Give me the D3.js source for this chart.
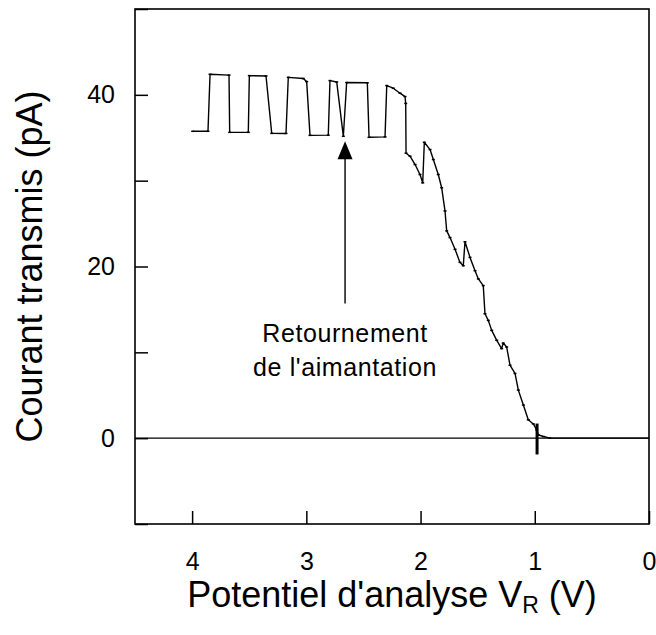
<!DOCTYPE html>
<html>
<head>
<meta charset="utf-8">
<script src="https://cdn.jsdelivr.net/npm/d3@7"></script>
<style>
  html, body { margin: 0; padding: 0; background: #fff; }
  svg { display: block; font-family: "Liberation Sans", Arial, sans-serif; }
</style>
</head>
<body>
<svg id="chart" width="656" height="635"></svg>
<script>
// ---- data (V_R in volts, current in pA) ----
const potential = [3.995, 3.861, 3.843, 3.677, 3.671, 3.508, 3.499, 3.353, 3.303, 3.178,
  3.158, 3.027, 2.997, 2.968, 2.808, 2.793, 2.734, 2.676, 2.647, 2.466,
  2.451, 2.311, 2.296, 2.239, 2.180, 2.136, 2.130, 2.127, 2.092, 2.048,
  2.005, 1.981, 1.967, 1.917, 1.888, 1.845, 1.815, 1.786, 1.771, 1.742,
  1.698, 1.655, 1.626, 1.611, 1.567, 1.523, 1.494, 1.451, 1.436, 1.407,
  1.377, 1.333, 1.290, 1.276, 1.246, 1.217, 1.173, 1.144, 1.100, 1.057,
  1.013, 0.983, 0.969, 0.925, 0.867, 0.0];
const current = [35.75, 35.75, 42.39, 42.30, 35.63, 35.63, 42.24, 42.20, 35.51, 35.50,
  42.04, 41.90, 41.54, 35.28, 35.30, 41.66, 41.50, 35.17, 41.43, 41.40,
  35.05, 35.10, 41.08, 40.77, 40.19, 39.80, 39.00, 33.20, 32.85, 31.88,
  30.72, 29.75, 34.47, 33.62, 32.46, 30.72, 29.17, 26.47, 24.15, 23.37,
  22.00, 20.48, 20.09, 22.88, 21.06, 19.51, 18.55, 17.77, 14.49, 13.72,
  12.56, 11.40, 10.43, 11.08, 10.62, 8.50, 7.54, 5.60, 3.86, 2.14,
  1.66, 0.96, 0.38, 0.19, 0.0, 0.0];
const xTicks = [4, 3, 2, 1, 0];
const yTicks = [-10, 0, 10, 20, 30, 40, 50];
const yLabelled = [0, 20, 40];
const crossingMark = { v: 0.98, lo: -1.9, hi: 1.7 };
const annotation = { v: 2.661, tip: 34.6, base: 15.7, lines: ["Retournement", "de l'aimantation"], l1: 11.2, l2: 7.3 };

// ---- layout ----
const svg = d3.select("#chart");
const x = d3.scaleLinear().domain([4.5, 0]).range([135, 649]);
const y = d3.scaleLinear().domain([-10, 50]).range([524, 9]);

// zero line
svg.append("line")
  .attr("x1", x.range()[0]).attr("x2", x.range()[1])
  .attr("y1", y(0)).attr("y2", y(0))
  .attr("stroke", "#000").attr("stroke-width", 1.2);

// y axis ticks (inside)
const yAxis = d3.axisLeft(y).tickValues(yTicks)
  .tickSizeInner(-13).tickSizeOuter(0).tickPadding(20)
  .tickFormat(d => yLabelled.includes(d) ? d : "");
const gy = svg.append("g").attr("transform", `translate(${x.range()[0]},0)`).call(yAxis);
gy.select(".domain").remove();
gy.selectAll(".tick line").attr("stroke", "#000").attr("stroke-width", 1.5);
gy.selectAll(".tick text").attr("font-size", 25).attr("fill", "#000")
  .attr("font-family", "Liberation Sans, Arial, sans-serif");

// x axis ticks (inside)
const xAxis = d3.axisBottom(x).tickValues(xTicks)
  .tickSizeInner(-13).tickSizeOuter(0).tickPadding(28)
  .tickFormat(d3.format("d"));
const gx = svg.append("g").attr("transform", `translate(0,${y.range()[0]})`).call(xAxis);
gx.select(".domain").remove();
gx.selectAll(".tick line").attr("stroke", "#000").attr("stroke-width", 1.5);
gx.selectAll(".tick text").attr("font-size", 25).attr("fill", "#000")
  .attr("font-family", "Liberation Sans, Arial, sans-serif");

// frame
svg.append("rect")
  .attr("x", x.range()[0]).attr("y", y.range()[1])
  .attr("width", x.range()[1] - x.range()[0])
  .attr("height", y.range()[0] - y.range()[1])
  .attr("fill", "none").attr("stroke", "#000").attr("stroke-width", 1.6);

// data curve
const pts = potential.map((v, i) => [v, current[i]]);
const line = d3.line().x(d => x(d[0])).y(d => y(d[1]));
svg.append("path").datum(pts)
  .attr("d", line)
  .attr("fill", "none").attr("stroke", "#000").attr("stroke-width", 1.4)
  .attr("stroke-linejoin", "round");

// small point markers
svg.append("g").selectAll("line").data(pts.slice(0, -1)).join("line")
  .attr("x1", d => x(d[0]) - 1.5).attr("x2", d => x(d[0]) + 1.5)
  .attr("y1", d => y(d[1])).attr("y2", d => y(d[1]))
  .attr("stroke", "#000").attr("stroke-width", 1.5);

// crossing mark
svg.append("line")
  .attr("x1", x(crossingMark.v)).attr("x2", x(crossingMark.v))
  .attr("y1", y(crossingMark.hi)).attr("y2", y(crossingMark.lo))
  .attr("stroke", "#000").attr("stroke-width", 3);

// annotation arrow
const ax = x(annotation.v);
const tipY = y(annotation.tip);
svg.append("line")
  .attr("x1", ax).attr("x2", ax)
  .attr("y1", y(annotation.base)).attr("y2", tipY + 16)
  .attr("stroke", "#000").attr("stroke-width", 1.4);
svg.append("path")
  .attr("d", `M${ax},${tipY} L${ax - 7.5},${tipY + 18} L${ax + 7.5},${tipY + 18} Z`)
  .attr("fill", "#000");
svg.append("text").attr("x", ax).attr("y", y(annotation.l1))
  .attr("text-anchor", "middle").attr("font-size", 25).attr("letter-spacing", 0.6)
  .text(annotation.lines[0]);
svg.append("text").attr("x", ax).attr("y", y(annotation.l2))
  .attr("text-anchor", "middle").attr("font-size", 25).attr("letter-spacing", 0.6)
  .text(annotation.lines[1]);

// axis titles
svg.append("text")
  .attr("transform", `translate(42,${(y.range()[0] + y.range()[1]) / 2}) rotate(-90)`)
  .attr("text-anchor", "middle").attr("font-size", 36)
  .text("Courant transmis (pA)");

const xt = svg.append("text")
  .attr("x", (x.range()[0] + x.range()[1]) / 2).attr("y", 607)
  .attr("text-anchor", "middle").attr("font-size", 36);
xt.append("tspan").text("Potentiel d'analyse V");
xt.append("tspan").attr("font-size", 23).attr("dy", 6).text("R");
xt.append("tspan").attr("dy", -6).text(" (V)");
</script>
</body>
</html>
